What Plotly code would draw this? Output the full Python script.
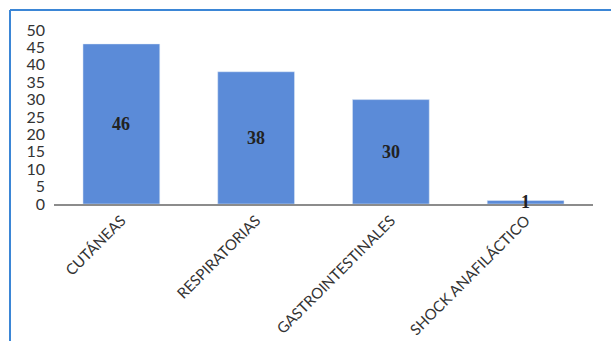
import plotly.graph_objects as go

categories = ["CUTÁNEAS", "RESPIRATORIAS", "GASTROINTESTINALES", "SHOCK ANAFILÁCTICO"]
values = [46, 38, 30, 1]
y_ticks = [0, 5, 10, 15, 20, 25, 30, 35, 40, 45, 50]

W, H = 611, 341
L, R, T, B = 54, 18, 30, 137
pw, ph = W - L - R, H - T - B

def px_x(p):
    return (p - L) / pw

def px_y(p):
    return (H - B - p) / ph

fig = go.Figure()
fig.add_trace(go.Bar(
    x=categories, y=values, marker_color="#5b8bd8", width=0.57,
    hoverinfo="skip",
))

for c, v in zip(categories, values):
    fig.add_annotation(x=c, y=v / 2, text=f"<b>{v}</b>", showarrow=False,
                       font=dict(family="Liberation Serif", size=18, color="#222222"))

border = "#3b86d6"
fig.add_shape(type="line", xref="paper", yref="paper",
              x0=px_x(10), x1=px_x(W + 5), y0=px_y(10), y1=px_y(10),
              line=dict(color=border, width=2))
fig.add_shape(type="line", xref="paper", yref="paper",
              x0=px_x(10), x1=px_x(10), y0=px_y(10), y1=px_y(H + 5),
              line=dict(color=border, width=2))

fig.update_layout(
    width=W, height=H, margin=dict(l=L, r=R, t=T, b=B, autoexpand=False),
    paper_bgcolor="white", plot_bgcolor="white", showlegend=False,
    font=dict(family="Lato", size=16, color="#333333"),
    xaxis=dict(tickangle=-45, showline=True, linecolor="#8c8c8c", linewidth=2,
               automargin=False, ticks="",
               tickfont=dict(family="Lato", size=15, color="#333333")),
    yaxis=dict(range=[0, 50], tickvals=y_ticks, showgrid=False, zeroline=False,
               automargin=False, ticks="", ticklabelstandoff=8,
               tickfont=dict(family="Lato", size=16, color="#333333")),
)

fig.write_html("out.html")
